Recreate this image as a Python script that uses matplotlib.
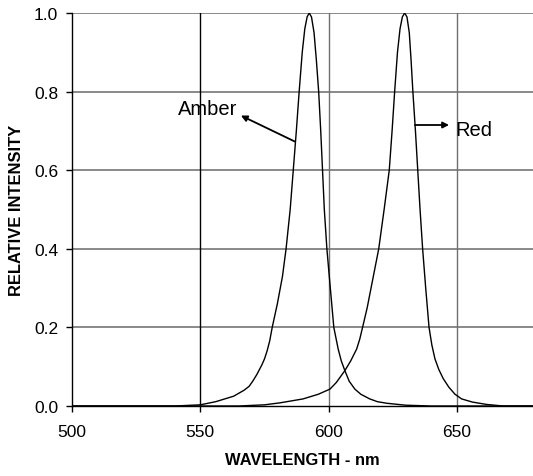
import matplotlib
matplotlib.use("Agg")
import matplotlib.pyplot as plt

plt.rcParams['font.family'] = ['Liberation Sans', 'DejaVu Sans']

amber_wl = [500, 540, 550, 556, 563, 567, 569, 570.5, 572, 574, 575, 576, 577, 578, 579, 580, 582,
            583.4, 585, 586.2, 587.4, 588.5, 589.7, 590.7, 591.6, 592.4, 593.3, 594.3, 595.2,
            596.1, 596.9, 597.6, 598.3, 599.3, 600.5, 602, 603.7, 604.9, 606.3, 608, 610.2,
            612.5, 616, 619, 622.6, 630, 640, 680]
amber_int = [0, 0, 0.003, 0.011, 0.025, 0.04, 0.05, 0.064, 0.08, 0.105, 0.12, 0.14, 0.165, 0.2,
             0.23, 0.26, 0.33, 0.4, 0.5, 0.6, 0.7, 0.8, 0.9, 0.96, 0.99, 1.0, 0.99, 0.95, 0.88,
             0.8, 0.7, 0.6, 0.5, 0.4, 0.31, 0.2, 0.145, 0.115, 0.09, 0.063, 0.043,
             0.03, 0.018, 0.011, 0.007, 0.002, 0, 0]

red_wl = [500, 565, 575, 581, 590, 596, 600.5, 603, 606.3, 608.6, 610.9, 612.1, 613.2, 615,
          616.5, 619.5, 621.6, 623.6, 624.7, 625.7, 626.8, 627.8, 628.7, 629.6, 630.5, 631.4,
          632.1, 632.8, 633.8, 634.7, 635.6, 636.6, 637.8, 639.1, 640.2, 641.4, 642.9, 644.6,
          646.8, 649.2, 651.8, 656, 661.5, 668, 680]
red_int = [0, 0, 0.003, 0.008, 0.018, 0.03, 0.043, 0.06, 0.09, 0.115, 0.145, 0.17, 0.2, 0.25,
           0.3, 0.4, 0.5, 0.6, 0.7, 0.8, 0.9, 0.96, 0.99, 1.0, 0.99, 0.95,
           0.88, 0.8, 0.7, 0.6, 0.5, 0.4, 0.3, 0.2, 0.155, 0.12, 0.093, 0.07,
           0.048, 0.03, 0.018, 0.01, 0.004, 0, 0]

x_ticks = [500, 550, 600, 650]
x_tick_labels = ['500', '550', '600', '650']
y_ticks = [0.0, 0.2, 0.4, 0.6, 0.8, 1.0]
y_tick_labels = ['0.0', '0.2', '0.4', '0.6', '0.8', '1.0']

fig = plt.figure(figsize=(5.33, 4.77), dpi=100)
ax = fig.add_axes([72/533, 1-407/477, 1-72/533, (407-14)/477])

# grid
for yv in y_ticks[1:]:
    ax.axhline(yv, color='#808080', lw=1.3, zorder=1)
vcolors = {550: '#000000', 600: '#707070', 650: '#707070'}
for xv in x_ticks[1:]:
    ax.axvline(xv, color=vcolors[xv], lw=1.0, zorder=1)

ax.plot(amber_wl, amber_int, color='black', lw=1.0, zorder=3)
ax.plot(red_wl, red_int, color='black', lw=1.0, zorder=3)

ax.set_xlim(500, 679.6)
ax.set_ylim(0, 1.0)
ax.set_xticks(x_ticks)
ax.set_xticklabels(x_tick_labels)
ax.set_yticks(y_ticks)
ax.set_yticklabels(y_tick_labels)
ax.tick_params(axis='both', direction='out', length=4, width=1, labelsize=12.5, pad=6, colors='black')
ax.tick_params(axis='x', pad=9)

for s in ['top', 'right']:
    ax.spines[s].set_visible(False)
ax.spines['left'].set_linewidth(1.0)
ax.spines['bottom'].set_linewidth(1.0)

ax.set_xlabel('WAVELENGTH - nm', fontsize=11.9, fontweight='bold', labelpad=9)
ax.set_ylabel('RELATIVE INTENSITY', fontsize=11.9, fontweight='bold', labelpad=7)

ax.annotate('', xy=(565.8, 0.739), xytext=(586.8, 0.673),
            arrowprops=dict(arrowstyle='-|>', color='black', lw=1.3, mutation_scale=9,
                            shrinkA=0, shrinkB=0), zorder=4)
ax.text(564.3, 0.758, 'Amber', fontsize=14.5, ha='right', va='center', zorder=4)
ax.annotate('', xy=(646.9, 0.715), xytext=(633.6, 0.715),
            arrowprops=dict(arrowstyle='-|>', color='black', lw=1.3, mutation_scale=9,
                            shrinkA=0, shrinkB=0), zorder=4)
ax.text(649.2, 0.703, 'Red', fontsize=14.5, ha='left', va='center', zorder=4)

fig.savefig('out.png', dpi=100)
